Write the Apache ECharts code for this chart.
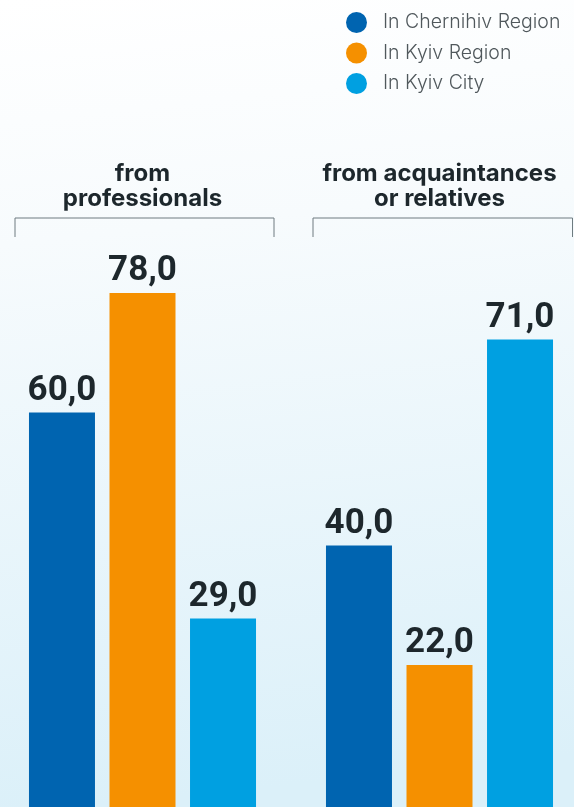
<!DOCTYPE html>
<html>
<head>
<meta charset="utf-8">
<script src="https://cdn.jsdelivr.net/npm/echarts@6/dist/echarts.min.js"></script>
<style>
	html,body{margin:0;padding:0;}
	#chart{width:574px;height:807px;}
</style>
</head>
<body>
<div id="chart"></div>
<script>
var categories = ['from\nprofessionals', 'from acquaintances\nor relatives'];
var seriesNames = ['In Chernihiv Region', 'In Kyiv Region', 'In Kyiv City'];
var chernihivRegion = [60, 40];
var kyivRegion = [78, 22];
var kyivCity = [29, 71];
var colors = ['#0064b0', '#f59000', '#00a0e1'];

var chart = echarts.init(document.getElementById('chart'));

function makeSeries(name, data, idx){
	return {
		name: name,
		type: 'bar',
		data: data,
		barWidth: 66,
		barGap: '22%',
		itemStyle: {color: colors[idx]},
		label: {
			show: true,
			position: 'top',
			distance: 4,
			fontFamily: 'Roboto',
			fontWeight: 'bold',
			fontSize: 35,
			color: '#1d272c',
			formatter: function(p){ return p.value.toFixed(1).replace('.', ','); }
		}
	};
}

var option = {
	backgroundColor: new echarts.graphic.LinearGradient(0, 0, 0.15, 1, [
		{offset: 0, color: '#ffffff'},
		{offset: 0.3, color: '#f7fbfd'},
		{offset: 1, color: '#dbf0f9'}
	]),
	color: colors,
	legend: {
		orient: 'vertical',
		left: 346,
		top: 12,
		padding: 0,
		icon: 'circle',
		itemWidth: 21,
		itemHeight: 21,
		itemGap: 9.5,
		textStyle: {
			fontFamily: 'Inter',
			fontWeight: 300,
			fontSize: 19.5,
			lineHeight: 21,
			color: '#50585c',
			padding: [0, 0, 0, 11]
		},
		data: seriesNames
	},
	// category centres sit on the grid edges (boundaryGap false)
	grid: {
		left: 142.5,
		right: 134.5,
		top: 147,
		bottom: 0,
		containLabel: false
	},
	xAxis: [
		{
			type: 'category',
			data: categories,
			boundaryGap: false,
			axisLine: {show: false},
			axisTick: {show: false},
			axisLabel: {show: false}
		},
		{
			type: 'category',
			data: categories,
			boundaryGap: false,
			position: 'top',
			offset: -71,
			axisLine: {show: false},
			axisTick: {show: false},
			axisLabel: {
				interval: 0,
				margin: 7,
				fontFamily: 'Inter',
				fontWeight: 'bold',
				fontSize: 24,
				lineHeight: 25,
				color: '#1d272c'
			}
		}
	],
	// bars start from the bottom edge; 0 sits just below it in the picture
	yAxis: {
		type: 'value',
		min: 0.6,
		max: 100,
		show: false
	},
	graphic: [
		{
			type: 'polyline',
			shape: {points: [[15, 237], [15, 218], [274, 218], [274, 237]]},
			style: {stroke: '#6e7b80', lineWidth: 1, fill: null}
		},
		{
			type: 'polyline',
			shape: {points: [[313, 237], [313, 218], [572.5, 218], [572.5, 237]]},
			style: {stroke: '#6e7b80', lineWidth: 1, fill: null}
		}
	],
	series: [
		makeSeries(seriesNames[0], chernihivRegion, 0),
		makeSeries(seriesNames[1], kyivRegion, 1),
		makeSeries(seriesNames[2], kyivCity, 2)
	]
};
chart.setOption(option);
</script>
</body>
</html>
